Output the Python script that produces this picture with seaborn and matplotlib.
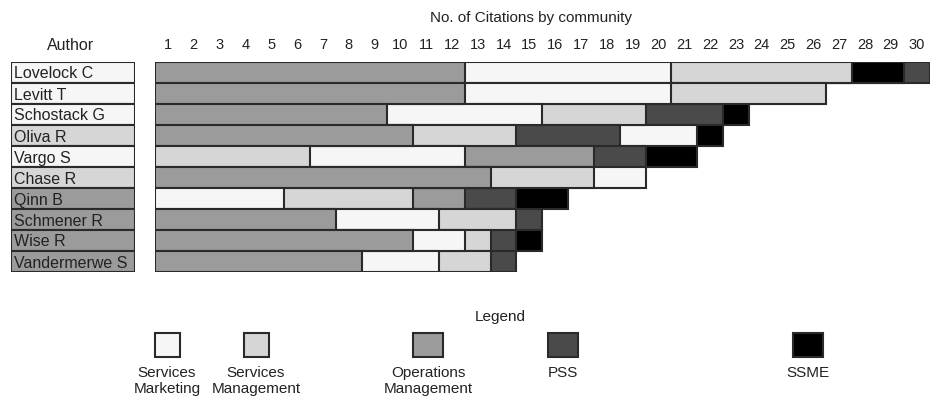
import numpy as np
import pandas as pd
import matplotlib.pyplot as plt
import seaborn as sns
from matplotlib.patches import Rectangle

sns.set_style("white")
plt.rcParams['font.family'] = ['Liberation Sans', 'DejaVu Sans']

# communities and their greys
communities = ["Services Marketing", "Services Management", "Operations Management", "PSS", "SSME"]
legend_labels = ["Services\nMarketing", "Services\nManagement", "Operations\nManagement", "PSS", "SSME"]
community_colors = {"Services Marketing": "#f6f6f6",
                    "Services Management": "#d6d6d6",
                    "Operations Management": "#9b9b9b",
                    "PSS": "#4a4a4a",
                    "SSME": "#000000"}

SM, SMG, OM = "Services Marketing", "Services Management", "Operations Management"

authors = ["Lovelock C", "Levitt T", "Schostack G", "Oliva R", "Vargo S",
           "Chase R", "Qinn B", "Schmener R", "Wise R", "Vandermerwe S"]
author_group = [SM, SM, SM, SMG, SM, SMG, OM, OM, OM, OM]

# segments of each bar, left to right
seg_groups = [[OM, SM, SMG, "SSME", "PSS"],
              [OM, SM, SMG],
              [OM, SM, SMG, "PSS", "SSME"],
              [OM, SMG, "PSS", SM, "SSME"],
              [SMG, SM, OM, "PSS", "SSME"],
              [OM, SMG, SM],
              [SM, SMG, OM, "PSS", "SSME"],
              [OM, SM, SMG, "PSS"],
              [OM, SM, SMG, "PSS", "SSME"],
              [OM, SM, SMG, "PSS"]]
seg_counts = [[12, 8, 7, 2, 1],
              [12, 8, 6],
              [9, 6, 4, 3, 1],
              [10, 4, 4, 3, 1],
              [6, 6, 5, 2, 2],
              [13, 4, 2],
              [5, 5, 2, 2, 2],
              [7, 4, 3, 1],
              [10, 2, 1, 1, 1],
              [8, 3, 2, 1]]

ticks = list(range(1, 31))

fig = plt.figure(figsize=(9.3, 4.05), dpi=100)
W, H = 930, 405

def fx(px):
    return px / W

def fy(py):
    return 1 - py / H

edge = "#2a2a2a"
txt = "#222222"

# author column
ax_a = fig.add_axes([fx(11), fy(272), fx(135) - fx(11), fy(62) - fy(272)])
df_a = pd.DataFrame({"author": authors, "full": [1] * len(authors)})
sns.barplot(data=df_a, x="full", y="author", hue="author", order=authors,
            palette={a: community_colors[g] for a, g in zip(authors, author_group)},
            width=1.0, edgecolor=edge, linewidth=1.5, legend=False, ax=ax_a)
for i, a in enumerate(authors):
    ax_a.text(0.025, i, a, ha="left", va="center_baseline", fontsize=11.5, color=txt)
ax_a.set_xlim(0, 1)
ax_a.set_ylim(len(authors) - 0.5, -0.5)
ax_a.axis("off")

# citation bars, drawn as cumulative layers (longest first)
ax = fig.add_axes([fx(155), fy(272), 0.9995 - fx(155), fy(62) - fy(272)])
n_layers = max(len(s) for s in seg_counts)
for k in reversed(range(n_layers)):
    ends, cols = [], {}
    for a, groups, counts in zip(authors, seg_groups, seg_counts):
        if k < len(counts):
            ends.append(sum(counts[:k + 1]))
            cols[a] = community_colors[groups[k]]
        else:
            ends.append(0)
            cols[a] = "#ffffff"
    df_k = pd.DataFrame({"author": authors, "end": ends})
    sns.barplot(data=df_k, x="end", y="author", hue="author", order=authors,
                palette=cols, width=1.0, edgecolor=edge, linewidth=1.5,
                legend=False, ax=ax)

ax.set_xlim(0, 30)
ax.set_ylim(len(authors) - 0.5, -0.5)
ax.set_xlabel("")
ax.set_ylabel("")
ax.set_yticks([])
ax.xaxis.tick_top()
ax.set_xticks([t - 0.5 for t in ticks])
ax.set_xticklabels([str(t) for t in ticks], fontsize=10.5, color=txt)
ax.tick_params(axis="x", length=0, pad=7)
for s in ax.spines.values():
    s.set_visible(False)

fig.text(fx(71), fy(45), "Author", ha="center", va="center", fontsize=11.5, color=txt)
fig.text(fx(531), fy(18), "No. of Citations by community", ha="center", va="center",
         fontsize=11, color=txt)

# legend
fig.text(fx(500), fy(317), "Legend", ha="center", va="center", fontsize=11, color=txt)
legend_x = [167, 256, 428, 563, 808]
legend_w = [25, 25, 30, 30, 30]
for cx, w, c, lab in zip(legend_x, legend_w, communities, legend_labels):
    fig.patches.append(Rectangle((fx(cx - w / 2), fy(357)), fx(w), fy(333) - fy(357),
                                 transform=fig.transFigure, facecolor=community_colors[c],
                                 edgecolor=edge, linewidth=1.5))
    fig.text(fx(cx), fy(366), lab, ha="center", va="top", fontsize=11,
             color=txt, linespacing=1.2)

fig.savefig("out.png", dpi=100)
